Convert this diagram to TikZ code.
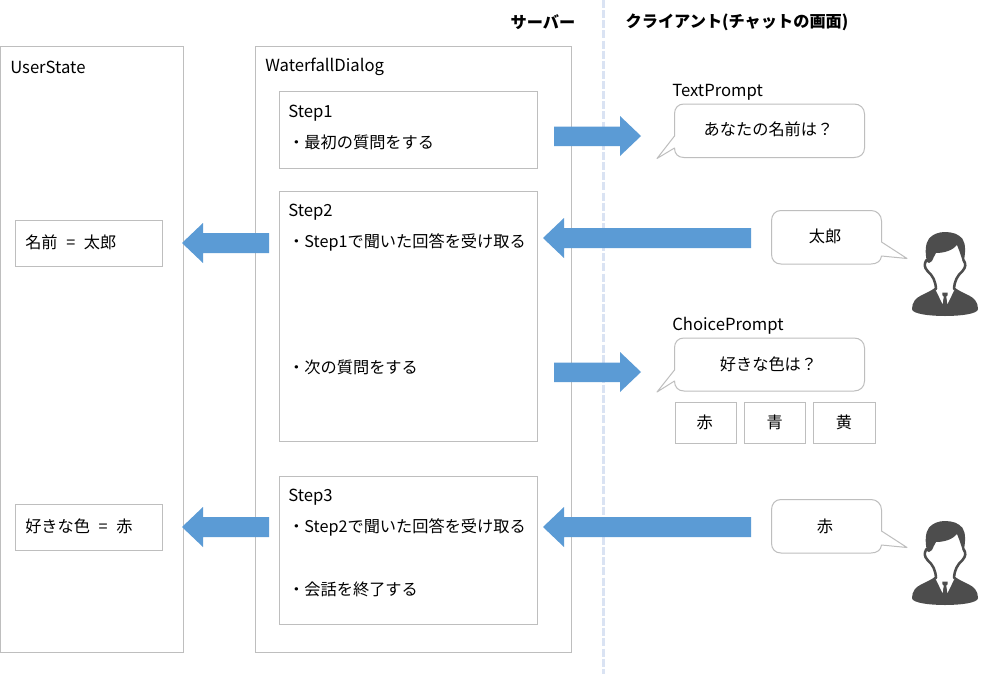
\documentclass[tikz,border=0pt]{standalone}
\usepackage{fontspec}
\setmainfont{Noto Sans CJK JP}
\definecolor{boxline}{RGB}{190,190,190}
\definecolor{arrowblue}{RGB}{91,155,213}
\definecolor{sepblue}{RGB}{218,227,243}
\definecolor{persongray}{RGB}{77,77,77}
\tikzset{
  x=0.75pt,y=-0.75pt,
  panel/.style={draw=boxline,line width=0.75pt,fill=none},
  cell/.style={panel,anchor=north west,inner sep=0pt},
  txt/.style={anchor=west,inner sep=0pt,font=\fontsize{12.15}{14}\selectfont,text=black},
  lat/.style={txt,font=\fontsize{12.5}{14}\selectfont},
  ctxt/.style={anchor=center,inner sep=0pt,font=\fontsize{12.15}{14}\selectfont,text=black},
  head/.style={anchor=center,inner sep=0pt,font=\bfseries\fontsize{12.15}{14}\selectfont,text=black},
  blockarrow/.style={fill=arrowblue,draw=none},
  bubble/.style={draw=boxline,line width=0.75pt,fill=white,line join=round},
  person/.pic={
    % body
    \fill[persongray] (-33,77) .. controls (-33,70) and (-29,66) .. (-24,63.5)
      .. controls (-19,61) and (-14,59) .. (-9.5,55.5) -- (9.5,55.5)
      .. controls (14,59) and (19,61) .. (24,63.5)
      .. controls (29,66) and (33,70) .. (33,77)
      .. controls (33,82) and (15,84) .. (0,84)
      .. controls (-15,84) and (-33,82) .. (-33,77) -- cycle;
    % shirt
    \fill[white] (-9,54) -- (-9.5,57.5) -- (-2.5,72) -- (-1,64) -- (1,64) -- (2.5,72) -- (9.5,57.5) -- (9,54) -- cycle;
    % tie
    \fill[persongray] (-2.5,60.5) -- (2.5,60.5) -- (2.7,63) -- (1,65) -- (2.5,75) -- (0,78) -- (-2.5,75) -- (-1,65) -- (-2.7,63) -- cycle;
    % neck and ears
    \draw[persongray,line width=1.9pt,line cap=round,line join=round]
      (-18.5,28) .. controls (-21,32) and (-21,35) .. (-17.5,39)
      .. controls (-12,44) and (-9.5,49) .. (-9,57);
    \draw[persongray,line width=1.9pt,line cap=round,line join=round]
      (18.5,28) .. controls (21,32) and (21,35) .. (17.5,39)
      .. controls (12,44) and (9.5,49) .. (9,57);
    % hair
    \fill[persongray] (-18,30) .. controls (-20,21) and (-20,12) .. (-16,6.5)
      .. controls (-12,2) and (-6,0) .. (0,0)
      .. controls (7,0) and (14,2) .. (17.5,7)
      .. controls (21,12) and (20.5,21) .. (18.5,31)
      .. controls (16.5,26) and (15,20) .. (12,13)
      .. controls (8,18) and (0,21) .. (-9,21)
      .. controls (-11,24) and (-12,27) .. (-13,29)
      -- (-16,31) -- cycle;
  }
}
\begin{document}
\begin{tikzpicture}
\useasboundingbox (0,0) rectangle (987,674);
\fill[white] (0,0) rectangle (987,674);

% separator
\coordinate (septop) at (603,0);
\coordinate (sepbot) at (603,674);
\draw[sepblue,line width=2.25pt,dash pattern=on 6pt off 1.6pt] (septop) -- (sepbot);

% headers
\node[head] (hserver) at (543,22) {サーバー};
\node[head] (hclient) at (737,22) {クライアント(チャットの画面)};

% panels
\draw[panel] (0,47) rectangle (183,652);
\node[lat] (us) at (10,67) {UserState};
\draw[panel] (255.5,47) rectangle (571.5,652);
\node[lat] (wd) at (265,67) {WaterfallDialog};

\node[cell,minimum width=193.5pt,minimum height=57.75pt] (s1) at (278.5,91) {};
\node[cell,minimum width=193.5pt,minimum height=187.5pt] (s2) at (278.5,191) {};
\node[cell,minimum width=193.5pt,minimum height=111pt] (s3) at (278.5,476) {};
\node[lat] (s1t) at (288,113.5) {Step1};
\node[txt] (s1a) at (288,142) {・最初の質問をする};
\node[lat] (s2t) at (288,212.5) {Step2};
\node[txt] (s2a) at (288,242.5) {・Step1で聞いた回答を受け取る};
\node[txt] (s2b) at (288,367) {・次の質問をする};
\node[lat] (s3t) at (288,497.5) {Step3};
\node[txt] (s3a) at (288,527.5) {・Step2で聞いた回答を受け取る};
\node[txt] (s3b) at (288,589) {・会話を終了する};

% state boxes
\node[cell,minimum width=110.25pt,minimum height=34.5pt] (name) at (14.5,219.5) {};
\node[txt] (namet) at (25,242) {名前\hspace{6.5pt}=\hspace{6.5pt}太郎};
\node[cell,minimum width=110.25pt,minimum height=34.5pt] (color) at (14.5,503.5) {};
\node[txt] (colort) at (25,526) {好きな色\hspace{6.5pt}=\hspace{6.5pt}赤};

% arrows
\fill[blockarrow] (554,126.5) -- (620,126.5) -- (620,116) -- (641,136) -- (620,156) -- (620,146) -- (554,146) -- cycle;
\fill[blockarrow] (554,362.5) -- (620,362.5) -- (620,352) -- (641,372) -- (620,392) -- (620,382) -- (554,382) -- cycle;
\fill[blockarrow] (751,228) -- (564,228) -- (564,218) -- (543,238) -- (564,258) -- (564,248) -- (751,248) -- cycle;
\fill[blockarrow] (751,517) -- (564,517) -- (564,507) -- (543,527) -- (564,547) -- (564,537) -- (751,537) -- cycle;
\fill[blockarrow] (269,233) -- (203,233) -- (203,223) -- (182,243) -- (203,263) -- (203,253) -- (269,253) -- cycle;
\fill[blockarrow] (269,517) -- (203,517) -- (203,507) -- (182,527) -- (203,547) -- (203,537) -- (269,537) -- cycle;

% bubbles
\draw[bubble] (674.5,114) .. controls (674.5,108) and (678,104) .. (684,104) -- (854,104)
  .. controls (860,104) and (864.5,108) .. (864.5,114) -- (864.5,148)
  .. controls (864.5,154) and (860,157.5) .. (854,157.5) -- (684,157.5)
  .. controls (678,157.5) and (674.5,154) .. (674.5,148) -- (657,158.5) -- (674.5,136) -- cycle;
\draw[bubble] (674.5,348) .. controls (674.5,342) and (678,338) .. (684,338) -- (854,338)
  .. controls (860,338) and (864.5,342) .. (864.5,348) -- (864.5,381)
  .. controls (864.5,387) and (860,391) .. (854,391) -- (684,391)
  .. controls (678,391) and (674.5,387) .. (674.5,381) -- (657,392) -- (674.5,370) -- cycle;
\draw[bubble] (771.5,221) .. controls (771.5,215) and (775,210.5) .. (781,210.5) -- (871,210.5)
  .. controls (877,210.5) and (881.5,215) .. (881.5,221) -- (881.5,242) -- (907,258.5) -- (881.5,256)
  .. controls (881,261) and (877,264) .. (871,264) -- (781,264)
  .. controls (775,264) and (771.5,260) .. (771.5,254) -- cycle;
\draw[bubble] (771.5,510) .. controls (771.5,504) and (775,499.5) .. (781,499.5) -- (871,499.5)
  .. controls (877,499.5) and (881.5,504) .. (881.5,510) -- (881.5,531) -- (907,547.5) -- (881.5,545)
  .. controls (881,550) and (877,553) .. (871,553) -- (781,553)
  .. controls (775,553) and (771.5,549) .. (771.5,543) -- cycle;

\node[lat] (tp) at (672,92) {TextPrompt};
\node[lat] (cp) at (672,326) {ChoicePrompt};
\node[ctxt] (q1) at (768.5,129) {あなたの名前は？};
\node[ctxt] (q2) at (768.5,364) {好きな色は？};
\node[ctxt] (a1) at (825,236) {太郎};
\node[ctxt] (a2) at (825,526) {赤};

% choices
\node[cell,minimum width=46pt,minimum height=30.75pt] (c1) at (674.5,401.5) {};
\node[cell,minimum width=46pt,minimum height=30.75pt] (c2) at (743.5,401.5) {};
\node[cell,minimum width=46.5pt,minimum height=30.75pt] (c3) at (812.5,401.5) {};
\node[ctxt] at ([xshift=-0.75pt]c1.center) {赤};
\node[ctxt] at (c2.center) {青};
\node[ctxt] at (c3.center) {黄};

% persons
\pic at (945,232) {person};
\pic at (945,521) {person};
\end{tikzpicture}
\end{document}
